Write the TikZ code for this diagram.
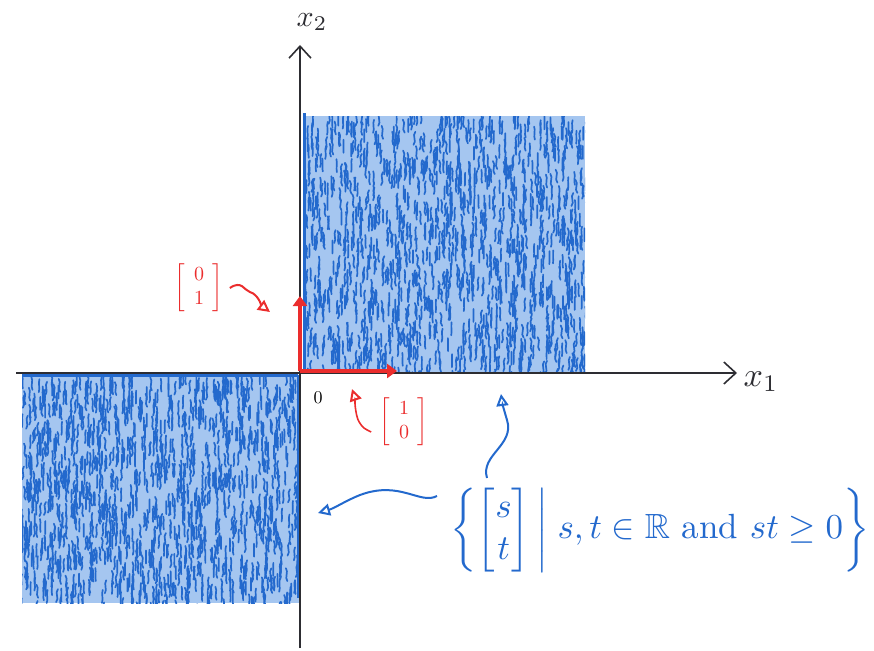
\documentclass[tikz,border=0pt]{standalone}
\usepackage{amsmath,amssymb}
\usetikzlibrary{arrows.meta}
\definecolor{penblue}{RGB}{35,105,205}
\definecolor{shadeblue}{RGB}{165,198,240}
\definecolor{penred}{RGB}{235,45,45}
\definecolor{axisgray}{RGB}{45,45,50}
\begin{document}
\begin{tikzpicture}[x=1pt,y=-1pt,
  axis/.style={draw=axisgray,line width=1.6pt},
  axistip/.style={-{Straight Barb[length=12pt,width=22pt,line width=1.6pt]}},
  vec/.style={draw=penred,line width=4pt,-{Triangle[length=10pt,width=14pt]}},
  pointer/.style={line width=2pt,-{Triangle[open,length=12pt,width=12pt,line width=2pt]}},
  lbl/.style={inner sep=0pt},
  shade/.style={fill=shadeblue},
  stroke/.style={draw=penblue,line width=1.7pt,line cap=round}]
\useasboundingbox (0,0) rectangle (874,650);
% shaded quadrants
\fill[shade] (304,116) rectangle (585,372);
\fill[shade] (22,375) rectangle (299,603);
\pgfmathsetseed{11}
\begin{scope}
\clip (304,116) rectangle (585,372);
\foreach \i in {1,...,1300}{
  \pgfmathsetmacro\px{302+rnd*286}
  \pgfmathsetmacro\py{110+rnd*264}
  \pgfmathsetmacro\dx{rnd*8-4}
  \draw[stroke] (\px,\py) .. controls +(\dx,4) and +(-\dx,-4) .. +(0.5*\dx,13);
}
\end{scope}
\begin{scope}
\clip (22,375) rectangle (299,603);
\foreach \i in {1,...,1300}{
  \pgfmathsetmacro\px{20+rnd*282}
  \pgfmathsetmacro\py{370+rnd*236}
  \pgfmathsetmacro\dx{rnd*8-4}
  \draw[stroke] (\px,\py) .. controls +(\dx,4) and +(-\dx,-4) .. +(0.5*\dx,13);
}
\end{scope}
\draw[penblue,line width=3pt] (304,113) -- (304,372);
\draw[penblue,line width=3pt] (298,375) -- (298,598);
\draw[penblue,line width=3pt] (22,375) -- (298,375);
% axes
\coordinate (xs) at (16,373);
\coordinate (xe) at (737,373);
\coordinate (ys) at (300,648);
\coordinate (ye) at (300,45);
\draw[axis,axistip] (xs) -- (xe);
\draw[axis,axistip] (ys) -- (ye);
\node[lbl,scale=3.4,text=axisgray,anchor=west] (x1) at (743,382) {$x_1$};
\node[lbl,scale=3,text=axisgray] (x2) at (312,22) {$x_2$};
\node[lbl,scale=1.8] (o) at (318,398) {$0$};
% red basis vectors
\coordinate (O) at (300,371);
\coordinate (e2) at (300,296);
\coordinate (e1) at (397,371);
\draw[vec] (O) -- (e2);
\draw[vec] (O) -- (e1);
\node[lbl,text=penred,scale=2] (lb01) at (199,288) {$\begin{bmatrix}\;\,0\;\,\\\;\,1\;\,\end{bmatrix}$};
\node[lbl,text=penred,scale=2] (lb10) at (404,422) {$\begin{bmatrix}\;\,1\;\,\\\;\,0\;\,\end{bmatrix}$};
\coordinate (p01) at (270,312);
\coordinate (p10) at (352,389);
\draw[pointer,penred] (lb01.east) ++(6,0) .. controls +(12,-8) and +(-6,-2) .. +(20,4) .. controls +(8,2) and +(-8,-6) .. (p01);
\draw[pointer,penred,line width=1.6pt] (lb10.west) ++(-8,10) .. controls +(-8,-4) and +(4,6) .. +(-12,-10) .. controls +(-4,-6) and +(2,6) .. (p10);
% set description
\node[lbl,text=penblue,scale=3.5,anchor=west] (set) at (450,530)
  {$\left\{\begin{bmatrix}s\\t\end{bmatrix}\,\middle|\; s,t\in\mathbb{R}\ \text{and}\ st\geq 0\right\}$};
\coordinate (a1) at (318,513);
\coordinate (a2) at (501,394);
\coordinate (s1) at (437,496);
\coordinate (s2) at (487,478);
\draw[pointer,penblue] (s1) .. controls (420,505) and (400,480) .. (360,495) .. controls (345,501) and (335,508) .. (a1);
\draw[pointer,penblue] (s2) .. controls (480,455) and (515,445) .. (507,420) .. controls (504,410) and (502,402) .. (a2);
\end{tikzpicture}
\end{document}
